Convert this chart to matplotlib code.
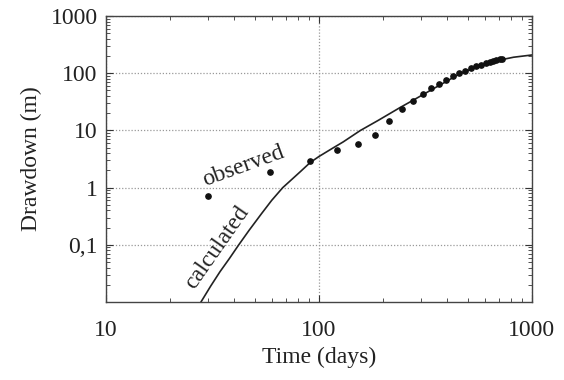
import matplotlib
matplotlib.use("Agg")
import matplotlib.pyplot as plt
from matplotlib.ticker import LogLocator, NullFormatter, FixedLocator, FixedFormatter

# observed drawdown (days, m)
obs_t = [30, 59, 91, 122, 153, 184, 214, 245, 277, 307, 336, 367, 395, 425,
         456, 487, 516, 546, 576, 606, 636, 657, 682, 708, 728]
obs_s = [0.72, 1.85, 2.9, 4.6, 5.7, 8.3, 14.4, 24, 32.7, 43, 55, 66, 76, 88,
         100, 111, 122, 132, 141, 151, 160, 166, 171, 176, 179]

# calculated drawdown
calc_t = [27.9, 31, 34.3, 38, 42, 47, 53.7, 60, 67.6, 75, 82, 91, 100, 115,
          130, 156, 190, 240, 282, 340, 400, 459, 560, 676, 820, 1000]
calc_s = [0.01, 0.019, 0.034, 0.058, 0.1, 0.18, 0.35, 0.6, 1.0, 1.42, 1.92,
          2.75, 3.5, 4.8, 6.3, 9.9, 15, 25, 35, 52, 73, 98, 132, 164, 190, 208]

y_ticks = [0.1, 1, 10, 100, 1000]
y_labels = ["0,1", "1", "10", "100", "1000"]
x_ticks = [10, 100, 1000]
x_labels = ["10", "100", "1000"]

plt.rcParams['font.family'] = ['Liberation Serif', 'DejaVu Serif']

fig = plt.figure(figsize=(5.64, 3.8), dpi=100)
ax = fig.add_axes([0.188, 0.205, 0.755, 0.753])

ax.plot(calc_t, calc_s, color='#222222', lw=1.2)
ax.plot(obs_t, obs_s, 'o', color='#111111', ms=3.8)

ax.set_xscale('log')
ax.set_yscale('log')
ax.set_xlim(10, 1000)
ax.set_ylim(0.01, 1000)

ax.xaxis.set_major_locator(FixedLocator(x_ticks))
ax.xaxis.set_major_formatter(FixedFormatter(x_labels))
ax.yaxis.set_major_locator(FixedLocator(y_ticks))
ax.yaxis.set_major_formatter(FixedFormatter(y_labels))
ax.xaxis.set_minor_locator(LogLocator(base=10, subs=range(2, 10)))
ax.yaxis.set_minor_locator(LogLocator(base=10, subs=range(2, 10)))
ax.xaxis.set_minor_formatter(NullFormatter())
ax.yaxis.set_minor_formatter(NullFormatter())

ax.tick_params(which='both', direction='in', top=True, right=True,
               color='#333333', labelsize=17, labelcolor='#222222')
ax.tick_params(which='major', length=5, width=0.8)
ax.tick_params(which='minor', length=3, width=0.6)
ax.tick_params(axis='x', which='major', pad=13)
ax.tick_params(axis='y', which='major', pad=6)

ax.grid(True, which='major', linestyle=(0, (1, 1.5)), color='#999999', lw=0.9)
for s in ax.spines.values():
    s.set_color('#444444')
    s.set_linewidth(1.0)

ax.set_xlabel('Time (days)', fontsize=17, color='#222222', labelpad=4)
ax.set_ylabel('Drawdown (m)', fontsize=17, color='#222222', labelpad=6)

ax.text(243, 214, 'observed', transform=None, fontsize=17, rotation=20,
        ha='center', va='center', color='#222222')
ax.text(217, 132, 'calculated', transform=None, fontsize=17, rotation=55,
        ha='center', va='center', color='#222222')

fig.savefig('out.png', dpi=100)
